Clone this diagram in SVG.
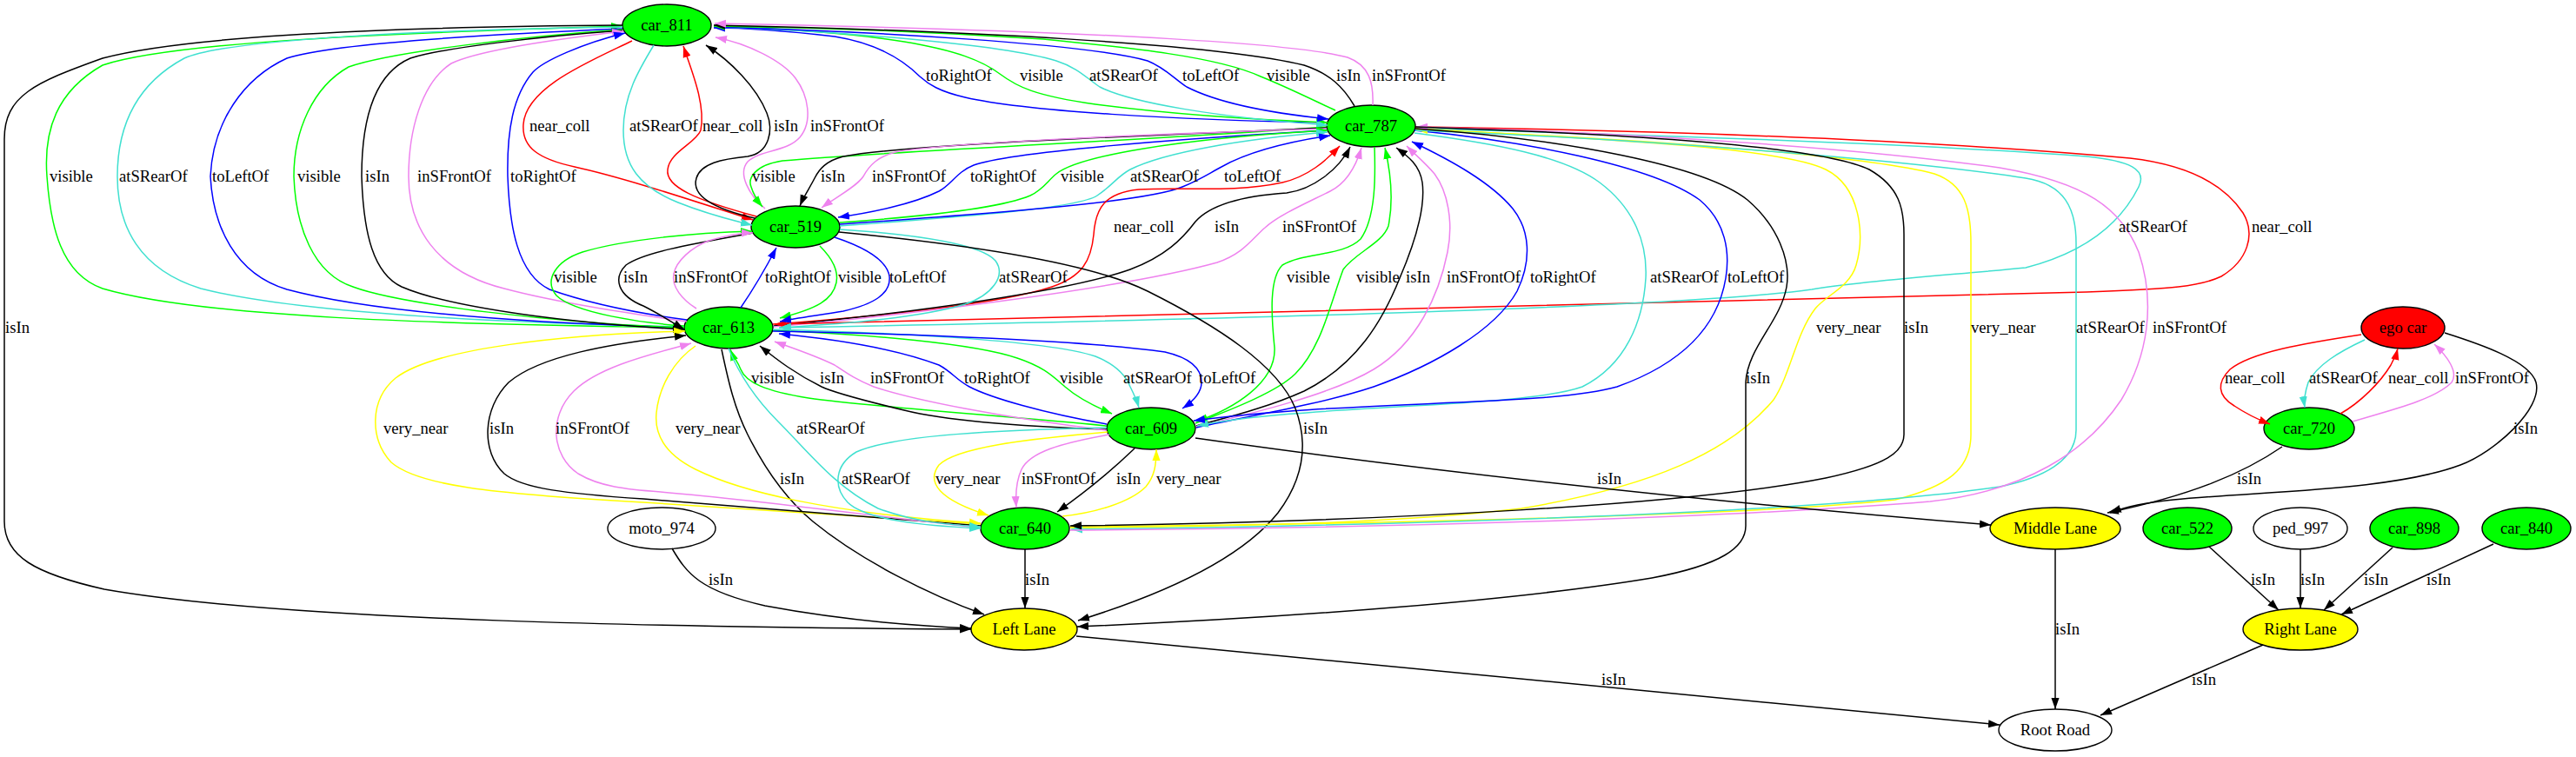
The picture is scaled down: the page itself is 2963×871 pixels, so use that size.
<svg xmlns="http://www.w3.org/2000/svg" width="2963" height="871" viewBox="0 0 2963 871">
<style>
text{font-family:"Liberation Serif","Times New Roman",serif;font-size:18.67px;fill:#000}
.node ellipse{stroke:#000;stroke-width:1.4}
.node text{text-anchor:middle}
.e{fill:none;stroke-width:1.5}
.k{stroke:#000}.g{stroke:#00ff00}.t{stroke:#40e0d0}.b{stroke:#0000ff}.r{stroke:#ff0000}.v{stroke:#ee82ee}.y{stroke:#ffff00}
</style>
<defs>
<marker id="ak" viewBox="0 0 10 7" refX="10" refY="3.5" markerWidth="13" markerHeight="9.5" markerUnits="userSpaceOnUse" orient="auto"><path d="M0,0L10,3.5L0,7z" fill="#000"/></marker>
<marker id="ag" viewBox="0 0 10 7" refX="10" refY="3.5" markerWidth="13" markerHeight="9.5" markerUnits="userSpaceOnUse" orient="auto"><path d="M0,0L10,3.5L0,7z" fill="#00ff00"/></marker>
<marker id="at" viewBox="0 0 10 7" refX="10" refY="3.5" markerWidth="13" markerHeight="9.5" markerUnits="userSpaceOnUse" orient="auto"><path d="M0,0L10,3.5L0,7z" fill="#40e0d0"/></marker>
<marker id="ab" viewBox="0 0 10 7" refX="10" refY="3.5" markerWidth="13" markerHeight="9.5" markerUnits="userSpaceOnUse" orient="auto"><path d="M0,0L10,3.5L0,7z" fill="#0000ff"/></marker>
<marker id="ar" viewBox="0 0 10 7" refX="10" refY="3.5" markerWidth="13" markerHeight="9.5" markerUnits="userSpaceOnUse" orient="auto"><path d="M0,0L10,3.5L0,7z" fill="#ff0000"/></marker>
<marker id="av" viewBox="0 0 10 7" refX="10" refY="3.5" markerWidth="13" markerHeight="9.5" markerUnits="userSpaceOnUse" orient="auto"><path d="M0,0L10,3.5L0,7z" fill="#ee82ee"/></marker>
<marker id="ay" viewBox="0 0 10 7" refX="10" refY="3.5" markerWidth="13" markerHeight="9.5" markerUnits="userSpaceOnUse" orient="auto"><path d="M0,0L10,3.5L0,7z" fill="#ffff00"/></marker>
</defs>
<rect width="2963" height="871" fill="#fff"/>

<g id="nodes">
<g id="car_811" class="node"><ellipse cx="767" cy="29" rx="51" ry="24" fill="#00ff00"/><text x="767" y="35">car_811</text></g>
<g id="car_787" class="node"><ellipse cx="1577" cy="145" rx="51" ry="24" fill="#00ff00"/><text x="1577" y="151">car_787</text></g>
<g id="car_519" class="node"><ellipse cx="915" cy="261" rx="51" ry="24" fill="#00ff00"/><text x="915" y="267">car_519</text></g>
<g id="car_613" class="node"><ellipse cx="838" cy="377" rx="51" ry="24" fill="#00ff00"/><text x="838" y="383">car_613</text></g>
<g id="car_609" class="node"><ellipse cx="1324" cy="493" rx="51" ry="24" fill="#00ff00"/><text x="1324" y="499">car_609</text></g>
<g id="car_640" class="node"><ellipse cx="1179" cy="608" rx="51" ry="24" fill="#00ff00"/><text x="1179" y="614">car_640</text></g>
<g id="moto_974" class="node"><ellipse cx="761" cy="608" rx="62" ry="24" fill="#fff"/><text x="761" y="614">moto_974</text></g>
<g id="middle_lane" class="node"><ellipse cx="2364" cy="608" rx="75" ry="24" fill="#ffff00"/><text x="2364" y="614">Middle Lane</text></g>
<g id="car_522" class="node"><ellipse cx="2516" cy="608" rx="51" ry="24" fill="#00ff00"/><text x="2516" y="614">car_522</text></g>
<g id="ped_997" class="node"><ellipse cx="2646" cy="608" rx="54" ry="24" fill="#fff"/><text x="2646" y="614">ped_997</text></g>
<g id="car_898" class="node"><ellipse cx="2777" cy="608" rx="51" ry="24" fill="#00ff00"/><text x="2777" y="614">car_898</text></g>
<g id="car_840" class="node"><ellipse cx="2906" cy="608" rx="51" ry="24" fill="#00ff00"/><text x="2906" y="614">car_840</text></g>
<g id="left_lane" class="node"><ellipse cx="1178" cy="724" rx="61" ry="24" fill="#ffff00"/><text x="1178" y="730">Left Lane</text></g>
<g id="right_lane" class="node"><ellipse cx="2646" cy="724" rx="66" ry="24" fill="#ffff00"/><text x="2646" y="730">Right Lane</text></g>
<g id="root_road" class="node"><ellipse cx="2364" cy="840" rx="65" ry="24" fill="#fff"/><text x="2364" y="846">Root Road</text></g>
<g id="ego_car" class="node"><ellipse cx="2764" cy="377" rx="48" ry="24" fill="#ff0000"/><text x="2764" y="383">ego car</text></g>
<g id="car_720" class="node"><ellipse cx="2656" cy="493" rx="52" ry="24" fill="#00ff00"/><text x="2656" y="499">car_720</text></g>
</g>

<g id="connectors">
<!-- car_811 <-> car_613 left loops -->
<path class="e g" marker-end="url(#ag)" d="M787,377 C500,373 230,365 118,332 C70,315 58,260 54,203 C50,150 65,105 118,75 C200,48 450,38 716,30"/>
<path class="e t" marker-end="url(#at)" d="M716,31 C500,34 260,45 212,67 C160,95 135,140 135,203 C135,260 160,310 231,332 C350,362 600,372 787,376"/>
<path class="e b" marker-end="url(#ab)" d="M716,33 C550,40 380,50 330,67 C280,90 245,140 242,203 C245,260 270,315 330,333 C430,360 620,372 787,377"/>
<path class="e g" marker-end="url(#ag)" d="M716,34 C600,42 450,60 401,77 C360,100 338,150 338,203 C340,260 360,315 406,330 C460,350 640,372 787,377"/>
<path class="e k" marker-end="url(#ak)" d="M716,35 C620,42 510,55 472,67 C430,85 416,140 416,203 C418,270 430,315 462,330 C520,355 660,372 787,379"/>
<path class="e v" marker-end="url(#av)" d="M790,370 C720,360 640,348 580,332 C500,312 470,260 470,203 C470,150 485,95 519,73 C550,58 640,45 717,36"/>
<path class="e b" marker-end="url(#ab)" d="M790,368 C730,360 680,350 632,333 C595,315 586,260 584,203 C583,150 590,110 613,83 C625,70 670,50 719,38"/>
<!-- car_811 -> Left Lane -->
<path class="e k" marker-end="url(#ak)" d="M716,29 C400,31 200,45 118,67 C40,95 5,110 5,160 L5,600 C5,640 40,660 120,678 C330,715 800,722 1117,724"/>
<!-- car_811 <-> car_519 -->
<path class="e r" marker-end="url(#ar)" d="M727,47 C680,70 605,100 602,143 C600,170 620,183 661,192 C720,205 800,232 866,253"/>
<path class="e t" marker-end="url(#at)" d="M752,52 C735,80 717,110 717,150 C717,190 735,215 780,233 C810,245 840,253 865,259"/>
<path class="e r" marker-end="url(#ar)" d="M870,249 C800,230 765,215 768,195 C770,175 800,165 806,150 C812,120 795,80 786,53"/>
<path class="e k" marker-end="url(#ak)" d="M868,251 C820,240 795,225 801,205 C806,188 830,183 860,180 C885,176 890,150 882,130 C870,100 840,70 812,52"/>
<path class="e v" marker-end="url(#av)" d="M880,240 C862,225 848,200 860,186 C875,172 905,175 920,158 C935,140 930,110 915,90 C900,70 860,50 823,43"/>
<!-- car_787 <-> car_811 -->
<path class="e b" marker-end="url(#ab)" d="M1526,141 C1350,138 1180,128 1110,112 C1080,105 1068,97 1058,88 C1040,70 1010,50 960,42 C900,35 860,32 821,32"/>
<path class="e g" marker-end="url(#ag)" d="M821,30 C900,33 980,38 1040,48 C1100,58 1130,70 1150,85 C1170,100 1190,110 1260,120 C1350,132 1450,138 1527,141"/>
<path class="e t" marker-end="url(#at)" d="M821,31 C950,35 1150,50 1215,70 C1240,78 1250,90 1265,100 C1300,118 1400,135 1527,144"/>
<path class="e b" marker-end="url(#ab)" d="M821,31 C1000,36 1250,50 1320,70 C1340,78 1350,90 1365,100 C1400,118 1460,130 1528,137"/>
<path class="e g" marker-end="url(#ag)" d="M1536,127 C1510,115 1480,100 1450,88 C1400,65 1300,55 1200,45 C1050,35 900,31 821,30"/>
<path class="e k" marker-end="url(#ak)" d="M1558,122 C1545,100 1530,85 1500,75 C1400,50 1100,35 821,29"/>
<path class="e v" marker-end="url(#av)" d="M1579,121 C1580,95 1575,75 1550,66 C1500,52 1300,36 822,27"/>
<!-- car_787 <-> car_519 -->
<path class="e g" marker-end="url(#ag)" d="M1526,146 C1350,160 1050,172 900,185 C868,190 860,205 864,215 C867,225 872,232 877,238"/>
<path class="e k" marker-end="url(#ak)" d="M1526,147 C1350,155 1050,165 970,180 C950,185 942,195 937,205 C932,215 925,225 920,237"/>
<path class="e v" marker-end="url(#av)" d="M1526,148 C1300,155 1080,165 1030,175 C1010,180 1000,190 993,203 C985,215 960,228 945,239"/>
<path class="e b" marker-end="url(#ab)" d="M1526,150 C1350,160 1160,175 1120,190 C1100,198 1095,212 1080,220 C1050,235 1000,245 964,250"/>
<path class="e g" marker-end="url(#ag)" d="M966,256 C1050,250 1150,240 1185,225 C1200,218 1205,208 1215,200 C1240,180 1350,160 1527,150"/>
<path class="e t" marker-end="url(#at)" d="M966,260 C1100,250 1240,240 1262,225 C1280,213 1285,203 1300,195 C1340,175 1430,160 1527,152"/>
<path class="e b" marker-end="url(#ab)" d="M966,258 C1150,245 1320,232 1360,215 C1380,207 1390,200 1405,192 C1430,178 1470,165 1530,156"/>
<!-- car_613 -> car_787 -->
<path class="e r" marker-end="url(#ar)" d="M889,373 C1000,365 1150,350 1210,330 C1245,318 1255,300 1258,270 C1260,240 1270,222 1310,218 C1360,215 1420,222 1475,210 C1505,203 1525,185 1541,168"/>
<path class="e k" marker-end="url(#ak)" d="M890,375 C1050,360 1230,335 1300,310 C1340,295 1360,275 1375,255 C1390,238 1420,226 1480,222 C1510,218 1540,195 1553,169"/>
<path class="e v" marker-end="url(#av)" d="M890,376 C1050,362 1300,330 1400,302 C1430,292 1440,275 1455,262 C1470,248 1500,235 1530,220 C1550,210 1560,190 1566,170"/>
<!-- car_787 -> car_613 right loops -->
<path class="e r" marker-end="url(#ar)" d="M1628,146 C1900,150 2200,160 2450,182 C2520,190 2560,215 2580,245 C2595,270 2585,300 2555,318 C2530,330 2500,332 2400,336 C2100,345 1500,360 891,373"/>
<path class="e t" marker-end="url(#at)" d="M1628,148 C1900,155 2200,165 2400,180 C2450,185 2470,195 2460,215 C2440,255 2400,290 2330,308 C2250,316 2150,322 2084,333 C1950,352 1500,366 896,377"/>
<!-- car_787 <-> car_609 -->
<path class="e g" marker-end="url(#ag)" d="M1581,169 C1582,200 1583,250 1565,275 C1545,295 1500,290 1475,305 C1460,320 1462,360 1466,400 C1468,440 1420,470 1376,485"/>
<path class="e g" marker-end="url(#ag)" d="M1375,487 C1420,470 1470,450 1490,430 C1520,400 1530,350 1545,310 C1560,290 1590,280 1597,260 C1603,230 1600,200 1593,170"/>
<path class="e k" marker-end="url(#ak)" d="M1376,490 C1420,478 1460,468 1500,450 C1560,420 1590,370 1610,320 C1625,285 1640,240 1636,210 C1633,190 1620,180 1606,170"/>
<path class="e v" marker-end="url(#av)" d="M1376,491 C1430,478 1530,455 1580,425 C1630,395 1655,340 1665,290 C1672,255 1665,220 1650,200 C1640,188 1628,178 1618,168"/>
<path class="e b" marker-end="url(#ab)" d="M1376,492 C1430,480 1520,465 1580,445 C1650,420 1720,380 1745,335 C1762,300 1760,265 1740,240 C1715,210 1670,185 1624,163"/>
<path class="e t" marker-end="url(#at)" d="M1627,153 C1720,165 1800,180 1840,210 C1880,240 1895,280 1893,320 C1890,370 1870,420 1820,445 C1750,470 1500,465 1377,490"/>
<path class="e b" marker-end="url(#ab)" d="M1627,150 C1750,162 1900,190 1955,230 C1985,255 1990,290 1985,320 C1975,380 1930,420 1860,445 C1780,468 1550,460 1373,484"/>
<!-- car_613 <-> car_609 -->
<path class="e g" marker-end="url(#ag)" d="M1273,490 C1150,478 1000,468 930,458 C880,450 858,440 852,425 C848,415 843,410 840,402"/>
<path class="e k" marker-end="url(#ak)" d="M1273,494 C1150,490 1080,482 1040,472 C990,460 960,452 945,445 C915,430 895,415 874,398"/>
<path class="e v" marker-end="url(#av)" d="M1273,495 C1150,480 1050,460 1005,445 C985,437 975,430 960,420 C935,408 910,400 891,393"/>
<path class="e b" marker-end="url(#ab)" d="M1273,488 C1200,475 1140,458 1115,445 C1100,437 1095,428 1080,420 C1040,405 980,392 896,384"/>
<path class="e g" marker-end="url(#ag)" d="M889,380 C1000,385 1120,395 1170,412 C1200,422 1210,432 1225,445 C1240,458 1260,468 1279,476"/>
<path class="e t" marker-end="url(#at)" d="M889,379 C1000,382 1200,390 1260,410 C1285,420 1295,432 1300,445 C1305,455 1308,462 1310,469"/>
<path class="e b" marker-end="url(#ab)" d="M889,381 C1050,384 1250,392 1340,405 C1370,412 1382,425 1382,440 C1382,452 1372,462 1360,470"/>
<!-- car_613 <-> car_519 -->
<path class="e g" marker-end="url(#ag)" d="M787,375 C740,372 660,360 640,340 C625,322 640,300 670,290 C720,275 800,268 865,266"/>
<path class="e k" marker-end="url(#ak)" d="M866,268 C800,280 740,290 720,305 C705,320 710,340 740,352 C760,362 775,372 787,379"/>
<path class="e v" marker-end="url(#av)" d="M801,355 C785,345 772,330 775,315 C778,300 795,285 815,277 C835,271 850,268 866,268"/>
<path class="e b" marker-end="url(#ab)" d="M852,354 C865,335 880,310 893,285"/>
<path class="e g" marker-end="url(#ag)" d="M943,283 C955,295 965,310 962,325 C958,345 940,355 897,366"/>
<path class="e b" marker-end="url(#ab)" d="M960,273 C990,283 1020,298 1023,318 C1025,338 1005,350 970,358 C940,363 915,366 897,370"/>
<path class="e t" marker-end="url(#at)" d="M966,264 C1060,270 1130,282 1145,300 C1158,318 1140,340 1110,350 C1060,365 980,372 897,377"/>
<!-- car_519 -> Left Lane -->
<path class="e k" marker-end="url(#ak)" d="M965,267 C1100,280 1250,300 1320,335 C1400,375 1470,420 1490,470 C1505,510 1500,550 1470,590 C1430,640 1350,680 1240,714"/>
<!-- car_613 -> Left Lane -->
<path class="e k" marker-end="url(#ak)" d="M830,402 C838,440 845,470 860,500 C880,540 905,575 935,600 C990,645 1070,685 1132,707"/>
<!-- car_613 <-> car_640 -->
<path class="e y" marker-end="url(#ay)" d="M1128,603 C1050,597 900,588 740,578 C560,568 480,558 450,532 C425,505 425,460 455,435 C500,400 650,385 788,381"/>
<path class="e k" marker-end="url(#ak)" d="M1128,605 C1050,598 900,586 740,574 C650,568 600,562 580,545 C553,520 555,470 585,440 C620,410 700,395 789,386"/>
<path class="e v" marker-end="url(#av)" d="M1128,607 C1050,600 900,578 760,566 C720,563 690,560 665,545 C635,525 630,480 660,450 C690,420 760,405 795,395"/>
<path class="e y" marker-end="url(#ay)" d="M800,398 C775,415 758,445 755,475 C752,505 770,525 800,540 C850,565 950,590 1128,602"/>
<path class="e t" marker-end="url(#at)" d="M838,401 C850,430 870,460 895,485 C930,520 960,560 1010,585 C1050,600 1090,604 1128,606"/>
<!-- car_609 <-> car_640 -->
<path class="e t" marker-end="url(#at)" d="M1273,492 C1150,495 1030,500 985,520 C960,535 958,560 975,578 C995,598 1060,605 1128,608"/>
<path class="e y" marker-end="url(#ay)" d="M1274,497 C1180,505 1100,515 1080,535 C1065,555 1080,575 1137,593"/>
<path class="e v" marker-end="url(#av)" d="M1276,500 C1220,510 1185,520 1175,540 C1168,555 1168,570 1169,584"/>
<path class="e k" marker-end="url(#ak)" d="M1305,516 C1280,540 1250,565 1216,589"/>
<path class="e y" marker-end="url(#ay)" d="M1222,594 C1260,590 1300,578 1318,560 C1328,548 1330,535 1330,517"/>
<!-- car_787 <-> car_640 long -->
<path class="e y" d="M1628,148 C1850,160 2050,170 2100,195 C2140,215 2145,270 2135,305 C2128,330 2100,340 2088,355 C2065,385 2060,430 2040,460 C1990,520 1900,560 1750,585 C1600,603 1400,606 1231,607"/>
<path class="e y" marker-end="url(#ay)" d="M1231,606 C1500,604 2000,595 2180,575 C2240,560 2267,540 2267,500 L2267,280 C2267,240 2260,212 2225,200 C2150,180 1900,160 1629,149"/>
<path class="e t" marker-end="url(#at)" d="M1628,150 C1900,160 2200,185 2330,205 C2375,212 2388,240 2388,280 L2388,495 C2388,530 2350,550 2300,560 C2100,590 1600,605 1232,609"/>
<path class="e v" marker-end="url(#av)" d="M1231,610 C1600,608 2000,595 2220,577 C2330,565 2400,520 2440,460 C2470,410 2480,350 2460,290 C2440,240 2400,210 2300,193 C2100,165 1800,150 1629,146"/>
<path class="e k" marker-end="url(#ak)" d="M1628,146 C1900,155 2100,170 2150,195 C2185,215 2190,240 2190,270 L2190,500 C2190,520 2170,535 2100,550 C1950,580 1600,600 1231,605"/>
<path class="e k" marker-end="url(#ak)" d="M1628,148 C1800,160 1960,190 2010,230 C2045,260 2060,300 2055,330 C2048,370 2010,400 2008,440 L2008,605 C2008,630 1980,650 1900,665 C1750,690 1500,710 1239,721"/>
<!-- to Middle Lane -->
<path class="e k" marker-end="url(#ak)" d="M1375,504 C1700,550 2000,580 2290,604"/>
<path class="e k" marker-end="url(#ak)" d="M2625,514 C2580,545 2520,570 2424,590"/>
<path class="e k" marker-end="url(#ak)" d="M2812,383 C2850,395 2910,415 2917,440 C2925,470 2870,520 2830,535 C2750,565 2600,565 2500,575 C2470,578 2445,583 2427,590"/>
<!-- ego car <-> car_720 -->
<path class="e r" marker-end="url(#ar)" d="M2716,385 C2650,395 2590,405 2565,425 C2550,440 2550,455 2570,467 C2585,477 2598,483 2611,488"/>
<path class="e t" marker-end="url(#at)" d="M2720,391 C2690,405 2665,420 2655,440 C2650,455 2650,462 2651,469"/>
<path class="e r" marker-end="url(#ar)" d="M2692,476 C2715,463 2738,440 2750,420 C2755,410 2757,405 2758,401"/>
<path class="e v" marker-end="url(#av)" d="M2706,485 C2750,472 2800,460 2820,440 C2828,428 2815,410 2800,396"/>
<!-- bottom -->
<path class="e k" marker-end="url(#ak)" d="M1179,632 L1179,700"/>
<path class="e k" marker-end="url(#ak)" d="M773,631 C790,660 805,680 880,697 C960,712 1050,720 1117,723"/>
<path class="e k" marker-end="url(#ak)" d="M1238,732 L2300,834"/>
<path class="e k" marker-end="url(#ak)" d="M2364,632 L2364,816"/>
<path class="e k" marker-end="url(#ak)" d="M2603,742 L2416,823"/>
<path class="e k" marker-end="url(#ak)" d="M2541,629 L2621,702"/>
<path class="e k" marker-end="url(#ak)" d="M2646,632 L2646,700"/>
<path class="e k" marker-end="url(#ak)" d="M2752,630 L2673,702"/>
<path class="e k" marker-end="url(#ak)" d="M2868,626 L2693,707"/>
</g>

<g id="edge-labels">
<text x="1065" y="93">toRightOf</text><text x="1173" y="93">visible</text><text x="1253" y="93">atSRearOf</text><text x="1360" y="93">toLeftOf</text><text x="1457" y="93">visible</text><text x="1537" y="93">isIn</text><text x="1578" y="93">inSFrontOf</text>
<text x="609" y="151">near_coll</text><text x="724" y="151">atSRearOf</text><text x="808" y="151">near_coll</text><text x="890" y="151">isIn</text><text x="932" y="151">inSFrontOf</text>
<text x="57" y="209">visible</text><text x="137" y="209">atSRearOf</text><text x="244" y="209">toLeftOf</text><text x="342" y="209">visible</text><text x="420" y="209">isIn</text><text x="480" y="209">inSFrontOf</text><text x="587" y="209">toRightOf</text>
<text x="865" y="209">visible</text><text x="944" y="209">isIn</text><text x="1003" y="209">inSFrontOf</text><text x="1116" y="209">toRightOf</text><text x="1220" y="209">visible</text><text x="1300" y="209">atSRearOf</text><text x="1408" y="209">toLeftOf</text>
<text x="1281" y="267">near_coll</text><text x="1397" y="267">isIn</text><text x="1475" y="267">inSFrontOf</text><text x="2437" y="267">atSRearOf</text><text x="2590" y="267">near_coll</text>
<text x="637" y="325">visible</text><text x="717" y="325">isIn</text><text x="775" y="325">inSFrontOf</text><text x="880" y="325">toRightOf</text><text x="964" y="325">visible</text><text x="1023" y="325">toLeftOf</text><text x="1149" y="325">atSRearOf</text>
<text x="1480" y="325">visible</text><text x="1560" y="325">visible</text><text x="1617" y="325">isIn</text><text x="1664" y="325">inSFrontOf</text><text x="1760" y="325">toRightOf</text><text x="1898" y="325">atSRearOf</text><text x="1987" y="325">toLeftOf</text>
<text x="6" y="383">isIn</text><text x="2089" y="383">very_near</text><text x="2190" y="383">isIn</text><text x="2267" y="383">very_near</text><text x="2388" y="383">atSRearOf</text><text x="2476" y="383">inSFrontOf</text>
<text x="864" y="441">visible</text><text x="943" y="441">isIn</text><text x="1001" y="441">inSFrontOf</text><text x="1109" y="441">toRightOf</text><text x="1219" y="441">visible</text><text x="1292" y="441">atSRearOf</text><text x="1379" y="441">toLeftOf</text>
<text x="2008" y="441">isIn</text><text x="2559" y="441">near_coll</text><text x="2656" y="441">atSRearOf</text><text x="2747" y="441">near_coll</text><text x="2824" y="441">inSFrontOf</text>
<text x="441" y="499">very_near</text><text x="563" y="499">isIn</text><text x="639" y="499">inSFrontOf</text><text x="777" y="499">very_near</text><text x="916" y="499">atSRearOf</text><text x="1499" y="499">isIn</text><text x="2891" y="499">isIn</text>
<text x="897" y="557">isIn</text><text x="968" y="557">atSRearOf</text><text x="1076" y="557">very_near</text><text x="1175" y="557">inSFrontOf</text><text x="1284" y="557">isIn</text><text x="1330" y="557">very_near</text><text x="1837" y="557">isIn</text><text x="2573" y="557">isIn</text>
<text x="815" y="673">isIn</text><text x="1179" y="673">isIn</text><text x="2589" y="673">isIn</text><text x="2646" y="673">isIn</text><text x="2719" y="673">isIn</text><text x="2791" y="673">isIn</text>
<text x="2364" y="730">isIn</text>
<text x="1842" y="788">isIn</text><text x="2521" y="788">isIn</text>
</g>
</svg>
